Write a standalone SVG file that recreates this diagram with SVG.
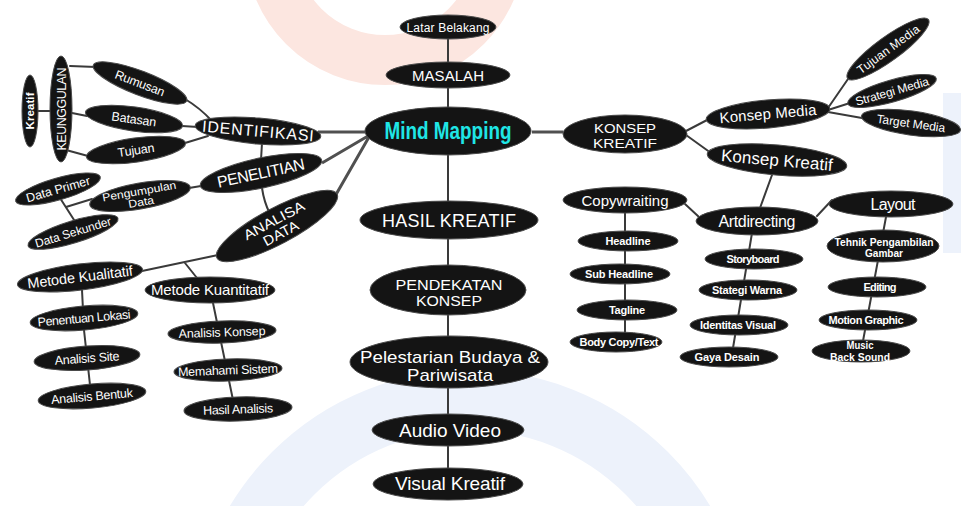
<svg xmlns="http://www.w3.org/2000/svg" width="961" height="506" viewBox="0 0 961 506">
<style>
.n{fill:#141414;stroke:#4a4a4a;stroke-width:1}
.t{fill:#fff;font-family:"Liberation Sans",Arial,sans-serif;text-anchor:middle}
.b{font-weight:bold}
.c{fill:none;stroke:#3a3a3a;stroke-width:2;stroke-linecap:round}
.m{fill:none;stroke:#505050;stroke-width:3}
</style>
<rect width="961" height="506" fill="#fff"/>
<g id="watermark">
<circle cx="385" cy="-55" r="115" fill="none" stroke="#fce6e0" stroke-width="50"/>
<circle cx="470" cy="650" r="250" fill="none" stroke="#edf2fb" stroke-width="60"/>
<rect x="943" y="93" width="18" height="160" fill="#edf2fb"/>
</g>
<g id="connectors">
<path class="c" d="M448 27 V484"/>
<path class="m" d="M318 132 H368 M532 132 H563 M322 163 L368 136 M334 198 L369 137"/>
<path class="c" d="M70 66 L96 67 M37 111 H51 M72 113 L87 116 M66 150 L88 156 M185 99 Q200 108 212 121 M182 126 L198 127 M185 143 L208 136 M262 143 L261 160 M262 188 Q264 202 270 214 M189 188 L201 186 M92 199 L66 207 M60 198 L76 223 M218 255 L142 271 M185 263 L197 278 M82 290 L84 330 L90 385 M213 303 L233 400"/>
<path class="c" d="M686 131 L709 119 M686 135 L711 153 M828 108 L848 79 M828 110 L850 103 M828 112 L862 118 M772 175 L760 208 M685 204 L699 217 M817 216 L832 200 M625 213 V333 M752 233 L733 348 M886 217 L863 341"/>
</g>
<g id="latar"><ellipse class="n" cx="448" cy="27" rx="48" ry="12"/><text class="t" x="448" y="31.5" font-size="12" textLength="83">Latar Belakang</text></g>
<g id="masalah"><ellipse class="n" cx="448" cy="75" rx="62" ry="13"/><text class="t" x="448" y="80.5" font-size="15" textLength="72">MASALAH</text></g>
<g id="mind"><ellipse class="n" cx="448" cy="131" rx="83" ry="24"/><text class="t b" x="448" y="139" font-size="23" style="fill:#1fe6e6" textLength="127" lengthAdjust="spacingAndGlyphs">Mind Mapping</text></g>
<g id="hasil"><ellipse class="n" cx="449" cy="220" rx="89" ry="19"/><text class="t" x="449" y="227" font-size="18" textLength="134">HASIL KREATIF</text></g>
<g id="pendekatan"><ellipse class="n" cx="448" cy="290" rx="78" ry="25"/><text class="t" x="449" y="290" font-size="15" textLength="107" lengthAdjust="spacingAndGlyphs">PENDEKATAN</text><text class="t" x="449" y="306" font-size="15" textLength="66" lengthAdjust="spacingAndGlyphs">KONSEP</text></g>
<g id="pelestarian"><ellipse class="n" cx="449" cy="362" rx="99" ry="26"/><text class="t" x="450" y="362.5" font-size="17" textLength="180" lengthAdjust="spacingAndGlyphs">Pelestarian Budaya &amp;</text><text class="t" x="450" y="381" font-size="17" textLength="86" lengthAdjust="spacingAndGlyphs">Pariwisata</text></g>
<g id="audio"><ellipse class="n" cx="448" cy="430" rx="76" ry="16"/><text class="t" x="450" y="437" font-size="19" textLength="102">Audio Video</text></g>
<g id="visual"><ellipse class="n" cx="448" cy="484" rx="75" ry="16"/><text class="t" x="450" y="490" font-size="19" textLength="110">Visual Kreatif</text></g>
<g id="identifikasi" transform="translate(258 131) rotate(5)"><ellipse class="n" rx="63" ry="13"/><text class="t" y="5.5" font-size="16" textLength="112">IDENTIFIKASI</text></g>
<g id="rumusan" transform="translate(140 83) rotate(21)"><ellipse class="n" rx="50" ry="12"/><text class="t" y="4.5" font-size="12.5" textLength="52">Rumusan</text></g>
<g id="batasan" transform="translate(134 119) rotate(8)"><ellipse class="n" rx="49" ry="12"/><text class="t" y="4.5" font-size="12.5" textLength="45">Batasan</text></g>
<g id="tujuan" transform="translate(136 150) rotate(-8)"><ellipse class="n" rx="50" ry="12"/><text class="t" y="4.5" font-size="12.5" textLength="37">Tujuan</text></g>
<g id="keunggulan" transform="translate(61 109) rotate(-90)"><ellipse class="n" rx="53" ry="11"/><text class="t" y="4.5" font-size="12.5" textLength="83">KEUNGGULAN</text></g>
<g id="kreatif" transform="translate(30 111) rotate(-90)"><ellipse class="n" rx="36" ry="8"/><text class="t b" y="4" font-size="11.5" textLength="37">Kreatif</text></g>
<g id="penelitian" transform="translate(261 173) rotate(-12)"><ellipse class="n" rx="62" ry="15"/><text class="t" y="5.5" font-size="16" textLength="89">PENELITIAN</text></g>
<g id="pengumpulan" transform="translate(140 196) rotate(-10)"><ellipse class="n" rx="51" ry="13"/><text class="t" y="-1" font-size="11" textLength="75" lengthAdjust="spacingAndGlyphs">Pengumpulan</text><text class="t" y="10" font-size="11" textLength="26" lengthAdjust="spacingAndGlyphs">Data</text></g>
<g id="dataprimer" transform="translate(58 189) rotate(-16)"><ellipse class="n" rx="44" ry="11"/><text class="t" y="4.5" font-size="12.5" textLength="66">Data Primer</text></g>
<g id="datasekunder" transform="translate(73 232) rotate(-17)"><ellipse class="n" rx="47" ry="11"/><text class="t" y="4.5" font-size="12" textLength="79">Data Sekunder</text></g>
<g id="analisa" transform="translate(277 226) rotate(-28)"><ellipse class="n" rx="68" ry="18"/><text class="t" y="-1.5" font-size="14" textLength="67" lengthAdjust="spacingAndGlyphs">ANALISA</text><text class="t" y="13" font-size="14" textLength="38" lengthAdjust="spacingAndGlyphs">DATA</text></g>
<g id="kualitatif" transform="translate(80 277) rotate(-7)"><ellipse class="n" rx="63" ry="13"/><text class="t" y="5" font-size="14.5" textLength="106">Metode Kualitatif</text></g>
<g id="kuantitatif"><ellipse class="n" cx="210" cy="290" rx="65" ry="13"/><text class="t" x="210" y="295" font-size="15" textLength="118">Metode Kuantitatif</text></g>
<g id="penentuan" transform="translate(84 318) rotate(-5)"><ellipse class="n" rx="54" ry="12"/><text class="t" y="4.5" font-size="12.5" textLength="93">Penentuan Lokasi</text></g>
<g id="analisissite" transform="translate(87 358) rotate(-4)"><ellipse class="n" rx="53" ry="12"/><text class="t" y="4.5" font-size="12.5" textLength="65">Analisis Site</text></g>
<g id="analisisbentuk" transform="translate(92 396) rotate(-5)"><ellipse class="n" rx="54" ry="12"/><text class="t" y="4.5" font-size="12.5" textLength="82">Analisis Bentuk</text></g>
<g id="analisiskonsep" transform="translate(222 332) rotate(-2)"><ellipse class="n" rx="54" ry="11"/><text class="t" y="4.5" font-size="12.5" textLength="87">Analisis Konsep</text></g>
<g id="memahami" transform="translate(228 370) rotate(-2)"><ellipse class="n" rx="54" ry="11"/><text class="t" y="4.5" font-size="12.5" textLength="100">Memahami Sistem</text></g>
<g id="hasilanalisis" transform="translate(238 409) rotate(-2)"><ellipse class="n" rx="54" ry="12"/><text class="t" y="4.5" font-size="12.5" textLength="70">Hasil Analisis</text></g>
<g id="konsepkreatif"><ellipse class="n" cx="625" cy="134" rx="62" ry="19"/><text class="t" x="625" y="133" font-size="13.5" textLength="62" lengthAdjust="spacingAndGlyphs">KONSEP</text><text class="t" x="625" y="148" font-size="13.5" textLength="64" lengthAdjust="spacingAndGlyphs">KREATIF</text></g>
<g id="konsepmedia" transform="translate(768 114) rotate(-5)"><ellipse class="n" rx="62" ry="14"/><text class="t" y="5" font-size="15" textLength="97">Konsep Media</text></g>
<g id="konsepkreatif2" transform="translate(777 160) rotate(5)"><ellipse class="n" rx="70" ry="15"/><text class="t" y="6" font-size="17" textLength="112">Konsep Kreatif</text></g>
<g id="tujuanmedia" transform="translate(888 49) rotate(-36)"><ellipse class="n" rx="50" ry="12"/><text class="t" y="4.5" font-size="12" textLength="74">Tujuan Media</text></g>
<g id="strategimedia" transform="translate(892 91) rotate(-16)"><ellipse class="n" rx="46" ry="11"/><text class="t" y="4.5" font-size="12" textLength="76">Strategi Media</text></g>
<g id="targetmedia" transform="translate(911 123) rotate(8)"><ellipse class="n" rx="50" ry="12"/><text class="t" y="4.5" font-size="12" textLength="69">Target Media</text></g>
<g id="copywraiting"><ellipse class="n" cx="625" cy="200" rx="62" ry="13"/><text class="t" x="625" y="205.5" font-size="15" textLength="87">Copywraiting</text></g>
<g id="artdirecting"><ellipse class="n" cx="757" cy="221" rx="61" ry="14"/><text class="t" x="757" y="226.5" font-size="16" textLength="77">Artdirecting</text></g>
<g id="layout"><ellipse class="n" cx="891" cy="204" rx="62" ry="13"/><text class="t" x="893" y="209.5" font-size="16" textLength="45">Layout</text></g>
<g id="headline"><ellipse class="n" cx="628" cy="241" rx="50" ry="10"/><text class="t b" x="628" y="245" font-size="11" textLength="45">Headline</text></g>
<g id="subheadline"><ellipse class="n" cx="620" cy="274" rx="50" ry="10"/><text class="t b" x="619" y="278" font-size="11" textLength="68">Sub Headline</text></g>
<g id="tagline"><ellipse class="n" cx="627" cy="310" rx="50" ry="10"/><text class="t b" x="627" y="314" font-size="11" textLength="36">Tagline</text></g>
<g id="bodycopy"><ellipse class="n" cx="616" cy="342" rx="46" ry="10"/><text class="t b" x="619" y="346" font-size="11" textLength="79">Body Copy/Text</text></g>
<g id="storyboard"><ellipse class="n" cx="754" cy="259" rx="49" ry="10"/><text class="t b" x="753" y="263" font-size="11" textLength="53">Storyboard</text></g>
<g id="stategiwarna"><ellipse class="n" cx="748" cy="290" rx="49" ry="10"/><text class="t b" x="747" y="294" font-size="11" textLength="70">Stategi Warna</text></g>
<g id="identitas"><ellipse class="n" cx="739" cy="325" rx="49" ry="10"/><text class="t b" x="738" y="329" font-size="11" textLength="76">Identitas Visual</text></g>
<g id="gayadesain"><ellipse class="n" cx="729" cy="357" rx="49" ry="10"/><text class="t b" x="727" y="361" font-size="11" textLength="65">Gaya Desain</text></g>
<g id="tehnik"><ellipse class="n" cx="883" cy="246" rx="56" ry="16"/><text class="t b" x="884" y="245.5" font-size="10" textLength="99" lengthAdjust="spacingAndGlyphs">Tehnik Pengambilan</text><text class="t b" x="884" y="257" font-size="10" textLength="38" lengthAdjust="spacingAndGlyphs">Gambar</text></g>
<g id="editing"><ellipse class="n" cx="877" cy="287" rx="49" ry="10"/><text class="t b" x="880" y="291" font-size="11" textLength="33">Editing</text></g>
<g id="motion"><ellipse class="n" cx="868" cy="320" rx="49" ry="10"/><text class="t b" x="866" y="324" font-size="11" textLength="75">Motion Graphic</text></g>
<g id="music"><ellipse class="n" cx="861" cy="351" rx="49" ry="11"/><text class="t b" x="860" y="349" font-size="10" textLength="27" lengthAdjust="spacingAndGlyphs">Music</text><text class="t b" x="860" y="360.5" font-size="10" textLength="60" lengthAdjust="spacingAndGlyphs">Back Sound</text></g>
</svg>
